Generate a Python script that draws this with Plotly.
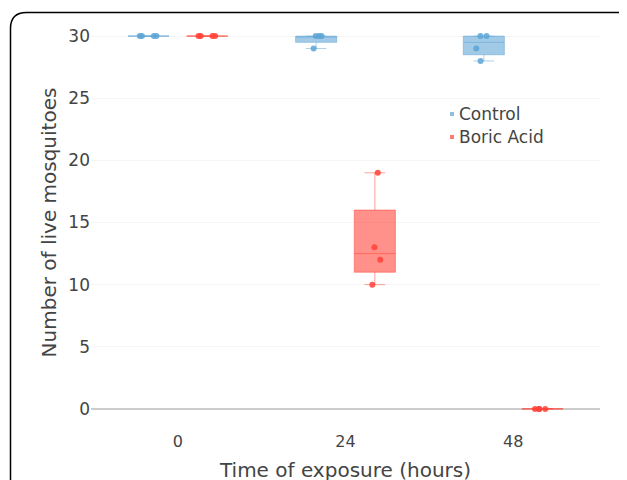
import plotly.graph_objects as go

time_labels = ["0", "24", "48"]
control_0 = [30, 30, 30, 30]
control_24 = [29, 30, 30, 30]
control_48 = [28, 29, 30, 30]
boric_0 = [30, 30, 30, 30]
boric_24 = [10, 12, 13, 19]
boric_48 = [0, 0, 0, 0]
series_names = ["Control", "Boric Acid"]

control_y = control_0 + control_24 + control_48
control_x = [time_labels[0]] * len(control_0) + [time_labels[1]] * len(control_24) + [time_labels[2]] * len(control_48)
boric_y = boric_0 + boric_24 + boric_48
boric_x = [time_labels[0]] * len(boric_0) + [time_labels[1]] * len(boric_24) + [time_labels[2]] * len(boric_48)

FONT = "DejaVu Sans"
BLUE = (93, 164, 214)
RED = (255, 65, 54)
def rgba(c, a):
    return f"rgba({c[0]},{c[1]},{c[2]},{a})"

fig = go.Figure()
for name, xs, ys, c in [(series_names[0], control_x, control_y, BLUE),
                        (series_names[1], boric_x, boric_y, RED)]:
    fig.add_trace(go.Box(
        x=xs, y=ys, name=name, showlegend=False,
        boxpoints="all", jitter=0.5, pointpos=0,
        fillcolor=rgba(c, 0.58),
        line=dict(color=rgba(c, 0.5), width=1),
        marker=dict(color=rgba(c, 0.85), size=6),
        quartilemethod="inclusive",
    ))

# figure geometry (page has an 8px body offset)
L, R, T, B = 83, 35, 7, 58
W, H = 627, 480
pw, ph = W - L - R, H - T - B
def px(x):
    return (x - L) / pw
def py(y):
    return (H - B - y) / ph

# rounded frame
x0, y0 = px(2.5), py(4.5)
rx, ry = 16 / pw, 16 / ph
xr, yb = px(640), py(500)
path = f"M {x0},{yb} L {x0},{y0 - ry} Q {x0},{y0} {x0 + rx},{y0} L {xr},{y0}"
shapes = [dict(type="path", xref="paper", yref="paper", path=path,
               line=dict(color="black", width=1.5))]

# legend: small squares + labels
annotations = []
for i, (name, c) in enumerate([(series_names[0], BLUE), (series_names[1], RED)]):
    yc = 106 + 23 * i
    shapes.append(dict(type="rect", xref="paper", yref="paper",
                       x0=px(442), x1=px(446), y0=py(yc + 2), y1=py(yc - 2),
                       fillcolor=rgba(c, 0.7), line=dict(width=0)))
    annotations.append(dict(text=name, xref="paper", yref="paper", x=px(449), y=py(yc),
                            xanchor="left", yanchor="middle", showarrow=False,
                            font=dict(size=17, color="#444", family=FONT)))

fig.update_layout(
    width=W, height=H,
    margin=dict(l=L, r=R, t=T, b=B, autoexpand=False),
    boxmode="group",
    paper_bgcolor="white", plot_bgcolor="white",
    font=dict(family=FONT, color="#444", size=16),
    showlegend=False,
    xaxis=dict(type="category", categoryorder="array", categoryarray=time_labels,
               title=dict(text="Time of exposure (hours)", font=dict(size=20), standoff=12),
               showgrid=False, tickfont=dict(size=16), automargin=False),
    yaxis=dict(range=[-1.7, 31.7], tickvals=[0, 5, 10, 15, 20, 25, 30],
               title=dict(text="Number of live mosquitoes", font=dict(size=20), standoff=6),
               gridcolor="#f5f5f5", zeroline=True, zerolinecolor="#cccccc", zerolinewidth=1.5,
               tickfont=dict(size=17), automargin=False),
    shapes=shapes,
    annotations=annotations,
)

fig.write_html("out.html")
